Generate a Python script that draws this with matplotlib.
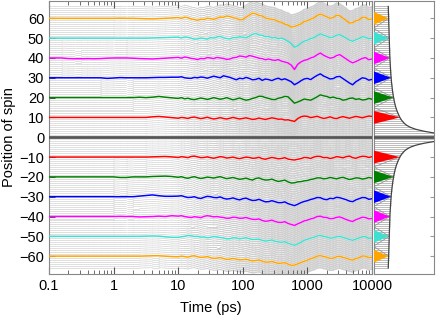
import numpy as np
import matplotlib
matplotlib.use('Agg')
import matplotlib.pyplot as plt
from matplotlib.collections import LineCollection
from matplotlib.ticker import LogLocator, NullFormatter, FixedLocator

plt.rcParams['font.family'] = ['Liberation Sans', 'DejaVu Sans']

# ---------------- data ----------------
log_time = [-1.0, -0.9, -0.8, -0.7, -0.6, -0.5, -0.4, -0.3, -0.2, -0.1,
            0.0, 0.1, 0.2, 0.3, 0.4, 0.5, 0.6, 0.7, 0.8, 0.9,
            1.0, 1.05, 1.1, 1.15, 1.2, 1.25, 1.3, 1.35, 1.4, 1.45,
            1.5, 1.55, 1.6, 1.65, 1.7, 1.75, 1.8, 1.85, 1.9, 1.95,
            2.0, 2.05, 2.1, 2.15, 2.2, 2.25, 2.3, 2.35, 2.4, 2.45,
            2.5, 2.55, 2.6, 2.65, 2.7, 2.75, 2.8, 2.85, 2.9, 2.95,
            3.0, 3.05, 3.1, 3.15, 3.2, 3.25, 3.3, 3.35, 3.4, 3.45,
            3.5, 3.55, 3.6, 3.65, 3.7, 3.75, 3.8, 3.85, 3.9, 3.95, 4.0]

dev_p60 = [0,0,0,0,0,0,0,0,0,0, 0,0.1,0,0,-0.1,-0.2,-0.3,-0.1,0.0,0.2,
           0.4, 0.0, 0.6, 0.3, -0.3, -0.6, -1.0, -0.4, -0.6, 0.1,
           -0.2, -0.5, 0.1, 0.7, 0.5, 1.2, 0.9, 0.3, 0.0, -0.7,
           -0.6, 0.6, 1.6, 2.6, 2.3, 1.5, 1.2, 0.2, -0.2, -0.5,
           -0.8, -1.6, -2.0, -2.9, -3.4, -4.4, -4.1, -3.5, -2.8, -1.6,
           -1.2, -0.4, 0.2, 1.4, 2.2, 1.5, 0.8, 0.0, 0.4, 1.6,
           1.3, 0.1, -1.0, -2.4, -2.2, -1.2, -0.8, 0.6, 0.5, -0.6, -0.3]
dev_p50 = [0,0,0,0,0,0,0,0,0,0, 0,0,0,0,0,0,0.1,0.2,0.3,0.4,
           0.5, 0.1, 0.6, 0.4, 0.0, -0.5, -0.4, 0.1, -0.2, -0.5,
           0.3, 0.0, 0.6, 0.9, 0.2, -0.2, -0.4, 0.3, 0.2, 0.7,
           0.5, 0.2, 1.0, 1.9, 2.4, 1.6, 1.4, 0.7, 0.8, 0.1,
           0.3, -0.4, 0.0, -0.7, -1.6, -2.8, -4.6, -3.8, -2.5, -1.5,
           -1.0, -0.2, 0.2, 1.3, 2.2, 1.5, 1.0, 0.2, 0.6, 1.5,
           1.8, 0.9, 0.0, -1.0, -1.6, -0.8, -0.2, 0.7, 0.5, -0.4, 0.0]
dev_p40 = [0,0,0,-0.3,-0.4,-0.4,-0.3,-0.4,-0.3,-0.1, 0,0,0,-0.1,-0.3,-0.4,-0.5,-0.3,-0.1,0.1,
           0.3, -0.1, 0.5, 0.2, -0.2, -0.4, -0.8, -0.2, -0.4, 0.2,
           0.0, -0.3, 0.3, 0.0, -0.2, -0.7, -0.5, 0.1, 0.3, 1.0,
           0.8, 0.4, 1.2, 0.9, 0.4, -0.1, -0.3, -0.9, -0.5, -1.0,
           -1.2, -0.8, -1.6, -2.0, -2.5, -3.6, -5.8, -3.2, -2.0, -1.2,
           -0.8, 0.0, 0.5, 1.6, 2.5, 1.4, 0.6, -0.1, 0.2, 1.2,
           1.7, 0.6, -0.5, -1.6, -2.5, -1.8, -1.0, -0.2, 0.2, -0.9, -0.5]
dev_p30 = [0,0,0,0,0,0,0,0,0,-0.3, -0.1,0.1,0,0,0,0,0.1,0.2,0.2,0.3,
           0.3, 0.5, 0.0, -0.2, -0.3, 0.2, 0.0, 0.4, 0.2, -0.2,
           0.3, 0.8, 0.4, 0.0, 1.0, 0.6, 0.2, -0.4, -1.0, -0.2,
           -0.5, 0.2, -0.3, -1.0, -0.8, -0.2, -1.3, -0.6, -0.9, -1.4,
           -0.7, -0.2, -1.0, -0.5, -1.2, -2.0, -3.5, -2.6, -1.5, -0.6,
           -0.3, -0.9, 0.2, 1.2, 2.0, 0.9, 0.2, -0.6, -0.4, 0.5,
           0.7, -0.4, -1.5, -2.6, -3.5, -2.0, -1.0, 0.0, -0.3, -1.2, -0.8]
dev_p20 = [0,0,0,0,0,0,0,0,0,0, 0,0,0,0,0.2,0,0.2,0.6,0.2,-0.1,
           -0.4, 0.0, -0.6, -0.3, -0.8, -1.0, -0.6, -0.2, -0.5, -0.9,
           -0.5, 0.0, -0.4, -0.8, -0.5, 0.0, -0.6, -1.1, -0.7, -0.2,
           -0.8, -1.3, -1.0, -0.4, 0.0, 0.7, 0.6, 0.0, -0.4, -0.9,
           -1.0, -0.3, 0.0, 0.6, 0.4, -1.2, -2.8, -2.2, -1.5, -0.7,
           -1.0, -1.3, -0.5, 0.4, 1.4, 0.9, 0.6, -0.1, 0.3, -0.3,
           -0.5, -1.3, -1.0, -0.4, -0.2, -0.9, -0.6, -1.2, -1.0, -0.4, -0.8]
dev_p10 = [0,0,0,0,0,0,0,0,0,0, 0,0,0,0,0,0,0.3,0.5,0.2,-0.1,
           -0.4, 0.0, -0.2, -0.5, 0.0, 0.2, -0.2, -0.6, -0.3, 0.1,
           -0.4, -0.8, -0.5, -0.1, -0.5, -0.8, -0.4, 0.0, -0.4, -0.8,
           -0.5, -0.2, -0.6, -1.0, -0.8, -0.3, -0.7, -1.0, -0.6, -0.2,
           -0.5, -0.9, -0.8, -1.3, -1.2, -1.6, -2.0, -0.6, 0.3, 0.7,
           0.5, -0.1, 0.2, 0.6, 0.0, -0.5, -0.2, 0.3, -0.3, -0.6,
           0.0, 0.4, 0.0, -0.4, 0.1, 0.5, 0.2, -0.2, 0.3, 0.7, 0.5]
dev_m10 = [0,0,0,0,0,0,0,0,0,0, 0,0,0,0,0,0,0.1,0.2,0.3,0.1,
           -0.2, 0.2, 0.0, -0.3, 0.3, 0.5, 0.1, -0.3, -0.2, 0.1,
           -0.3, -0.6, -0.2, 0.2, 0.0, -0.5, -0.3, 0.0, -0.5, -0.8,
           -0.4, 0.0, -0.2, -0.6, -0.5, -0.1, -0.8, -1.1, -0.6, -0.2,
           -0.5, -0.9, -0.7, -0.3, -1.0, -1.3, -1.5, -1.1, -0.8, -0.2,
           -0.3, -0.7, 0.0, 0.4, 0.3, -0.3, -0.2, -0.7, -0.4, 0.2,
           0.0, -0.4, 0.2, 0.5, -0.3, -0.6, 0.0, 0.4, 0.3, -0.2, 0.2]
dev_m20 = [0,0,0,0,0,0,0,0,0,0, 0,-0.3,-0.3,0,0,0,0.2,0.3,0.4,0.2,
           -0.2, 0.1, -0.4, -0.7, -0.2, 0.1, -0.4, -0.8, -0.5, -0.1,
           -0.3, -0.6, -0.2, 0.1, -0.4, -0.9, -0.6, -0.3, -0.8, -1.2,
           -1.0, -0.6, -1.2, -1.6, -0.8, -0.5, -1.2, -1.6, -1.5, -1.1,
           -1.8, -2.3, -2.0, -1.6, -2.5, -3.1, -3.0, -2.5, -2.4, -2.0,
           -1.8, -1.3, -1.0, -0.5, -0.5, -1.0, -0.8, -0.3, -0.6, -1.0,
           -0.5, -0.2, -0.8, -1.3, -1.0, -0.5, -0.6, -1.1, -0.8, -0.3, -0.6]
dev_m30 = [0,0,0,0,0,0,0,0,0,0, 0,0,0,0,0.3,0.6,0.9,0.5,0.2,0.2,
           0.3, 0.5, 0.0, -0.4, -0.3, 0.0, -0.6, -0.9, -0.3, 0.2,
           0.0, -0.4, -0.5, -0.1, -0.8, -1.2, -1.0, -0.6, -1.2, -1.6,
           -1.0, -0.7, -1.4, -1.9, -1.8, -1.3, -2.0, -2.6, -2.5, -2.0,
           -2.5, -3.0, -3.0, -2.6, -3.5, -4.0, -4.5, -3.8, -3.0, -2.4,
           -2.0, -1.4, -1.0, -0.4, -0.5, -1.2, -1.5, -0.8, -1.0, -0.3,
           -0.5, -1.0, -1.5, -2.2, -2.5, -1.6, -1.0, -0.4, -0.5, -1.3, -1.0]
dev_m40 = [0,0,0,0,0,0,0,0,0,0, 0,0.1,0,0,-0.2,-0.1,0.0,0.2,0.0,0.4,
           0.2, 0.4, 0.0, -0.3, -0.5, -0.1, -0.3, -0.6, 0.1, 0.4,
           0.2, -0.2, 0.0, -0.3, -0.5, -0.9, -0.8, -0.3, -0.5, -0.9,
           -0.8, -0.5, -1.0, -1.4, -1.5, -1.2, -2.0, -2.4, -2.2, -1.8,
           -2.5, -2.9, -3.0, -2.6, -3.5, -4.0, -4.5, -3.7, -3.0, -2.2,
           -1.8, -1.2, -0.8, 0.0, 0.2, -0.4, -0.5, -1.1, -1.0, -0.4,
           -0.2, -0.8, -1.5, -2.1, -2.5, -1.6, -1.0, -0.3, -0.5, -1.2, -1.0]
dev_m50 = [0,0,0,0,0,0,0,0,0,0, 0,0,0,0,0,0.1,0.2,0.1,-0.2,-0.5,
           -0.5, -0.2, 0.0, 0.4, 0.3, -0.1, 0.0, -0.4, -0.3, -0.7,
           -0.5, -0.1, -0.3, -0.6, -0.8, -1.3, -1.2, -0.7, -0.8, -1.3,
           -1.0, -0.7, -1.2, -1.6, -1.5, -1.4, -2.0, -2.4, -2.2, -1.8,
           -2.5, -2.8, -3.0, -2.7, -3.5, -4.0, -4.5, -3.8, -3.0, -2.0,
           -1.5, -0.9, -0.5, 0.2, 0.5, -0.1, -0.3, -0.9, -0.8, -0.2,
           0.0, -0.5, -1.0, -1.6, -2.0, -1.4, -0.8, -0.2, -0.2, -1.0, -0.8]
dev_m60 = [0,0,0,0,0,0,0,0,0,0, 0,0,0,0,0,0.1,0.2,0.2,0.0,-0.2,
           -0.3, 0.0, -0.2, -0.5, 0.0, 0.2, -0.3, -0.6, -0.5, -0.2,
           -0.8, -1.1, -1.0, -0.7, -1.2, -1.6, -1.5, -1.1, -1.5, -1.9,
           -1.8, -1.5, -2.0, -2.4, -2.2, -1.9, -2.5, -3.0, -3.0, -2.6,
           -3.2, -3.6, -3.5, -3.3, -4.0, -4.6, -4.5, -3.9, -3.2, -2.6,
           -2.0, -1.3, -0.8, 0.0, 0.3, -0.2, -0.5, -1.1, -1.0, -0.3,
           0.0, -0.6, -1.0, -1.6, -2.0, -1.2, -0.8, 0.1, 0.0, -0.8, -0.5]

highlight_positions = [60, 50, 40, 30, 20, 10, -10, -20, -30, -40, -50, -60]
highlight_devs = [dev_p60, dev_p50, dev_p40, dev_p30, dev_p20, dev_p10,
                  dev_m10, dev_m20, dev_m30, dev_m40, dev_m50, dev_m60]
highlight_colors = ['#FFA500', '#40E0D0', '#FF00FF', '#0000FF', '#008000', '#FF0000',
                    '#FF0000', '#008000', '#0000FF', '#FF00FF', '#40E0D0', '#FFA500']

max_position = 66
# profile (right panel) for |position| = 0..66
profile = [1.50, 1.25, 1.03, 0.84, 0.70, 0.61, 0.55, 0.51, 0.48, 0.455,
           0.435, 0.42, 0.405, 0.392, 0.38, 0.37, 0.36, 0.352, 0.345, 0.338,
           0.332, 0.326, 0.321, 0.316, 0.312, 0.308, 0.304, 0.300, 0.297, 0.294,
           0.291, 0.288, 0.286, 0.284, 0.282, 0.280, 0.278, 0.276, 0.274, 0.272,
           0.270, 0.269, 0.268, 0.267, 0.266, 0.265, 0.264, 0.263, 0.262, 0.261,
           0.260, 0.259, 0.258, 0.257, 0.256, 0.255, 0.254, 0.253, 0.252, 0.251,
           0.250, 0.249, 0.248, 0.247, 0.246, 0.245, 0.244]

# ---------------- figure ----------------
fig = plt.figure(figsize=(4.36, 3.24), dpi=100)
ax = fig.add_axes([49/436, 50/324, (372-49)/436, 273.5/324])
axr = fig.add_axes([373.5/436, 50/324, (434-373.5)/436, 273.5/324])

lt = np.array(log_time)
t = 10.0 ** lt
spine_col = '#888888'
gray_col = '#cfcfcf'

# background grey traces: shape blended from the neighbouring highlighted traces
group_dev = {p: np.array(d) for p, d in zip(highlight_positions, highlight_devs)}
group_dev[0] = np.zeros(len(t))
seg_lw = np.interp(lt[:-1], [0.8, 2.6], [0.45, 1.2])
segs, lws = [], []
for p in range(-max_position, max_position + 1):
    if p == 0 or p in highlight_positions:
        continue
    s = 1 if p > 0 else -1
    a = abs(p)
    lo = min((a // 10) * 10, 60)
    hi = min(lo + 10, 60)
    w = 0.0 if hi == lo else (a - lo) / 10.0
    d = (1 - w) * group_dev[lo * s] + w * group_dev[hi * s]
    y = p + d
    pts = np.column_stack([t, y])
    for i in range(len(t) - 1):
        segs.append(pts[i:i+2])
        lws.append(seg_lw[i])
lc = LineCollection(segs, colors=gray_col, linewidths=lws, zorder=1, capstyle='round')
ax.add_collection(lc)

ax.plot([t[0], t[-1]], [0, 0], color='#555555', lw=2.0, zorder=3)
for p, d, c in zip(highlight_positions, highlight_devs, highlight_colors):
    ax.plot(t, p + np.array(d), color=c, lw=1.1, zorder=4)

ax.set_xscale('log')
ax.set_xlim(0.1, 10000)
ax.set_ylim(-69, 69)
ax.set_yticks([-60, -50, -40, -30, -20, -10, 0, 10, 20, 30, 40, 50, 60])
ax.set_xticks([0.1, 1, 10, 100, 1000, 10000])
ax.set_xticklabels(['0.1', '1', '10', '100', '1000', '10000'])
ax.xaxis.set_minor_locator(LogLocator(base=10, subs=np.arange(2, 10), numticks=20))
ax.xaxis.set_minor_formatter(NullFormatter())
ax.tick_params(axis='both', which='both', direction='in', top=True, right=False,
               color='#555555', labelsize=10.5)
ax.tick_params(axis='x', which='major', length=5)
ax.tick_params(axis='x', which='minor', length=3)
ax.tick_params(axis='y', which='major', length=4)
for sp in ax.spines.values():
    sp.set_color(spine_col)
ax.set_xlabel('Time (ps)', fontsize=10.5, labelpad=6)
ax.set_ylabel('Position of spin', fontsize=10.5, labelpad=2)

# ---------------- right panel ----------------
pos = np.arange(-max_position, max_position + 1)
prof = np.array([profile[abs(p)] for p in pos])
side_segs = [[(0, p), (f, p)] for p, f in zip(pos, prof)]
axr.add_collection(LineCollection(side_segs, colors='#a9a9a9', linewidths=0.55, zorder=1))
pos_side = [60, 50, 40, 30, 20, 10]
for sgn in (1, -1):
    for c1, c2 in zip(pos_side[:-1], pos_side[1:]):
        mid = (c1 + c2) / 2.0
        axr.plot([profile[c1], 0, profile[c2]], [sgn * c1, sgn * mid, sgn * c2],
                 color='#8a8a8a', lw=0.5, zorder=2)
for c_p, c in zip(highlight_positions, highlight_colors):
    f = profile[abs(c_p)]
    axr.fill([0, f, 0], [c_p + 3.3, c_p, c_p - 3.3], color=c, zorder=3, lw=0)
axr.plot([0, 1.4], [0, 0], color='#555555', lw=2.0, zorder=4)
axr.plot(prof, pos, color='#444444', lw=0.9, zorder=5)
axr.set_xlim(0, 1)
axr.set_ylim(-69, 69)
axr.set_xticks([])
axr.yaxis.set_major_locator(FixedLocator([-60, -50, -40, -30, -20, -10, 0, 10, 20, 30, 40, 50, 60]))
axr.tick_params(axis='y', which='both', left=False, right=True, labelleft=False,
                direction='in', length=3, color='#999999')
for sp in axr.spines.values():
    sp.set_color(spine_col)

fig.savefig('out.png', dpi=100)
